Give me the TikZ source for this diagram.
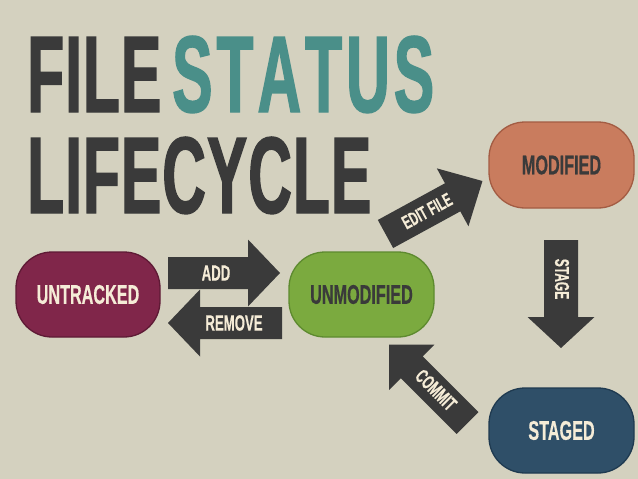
\documentclass[tikz,border=0pt]{standalone}
\usepackage{fontspec}
\setmainfont{Liberation Sans}
\newfontfamily\osw{Liberation Sans}[FakeStretch=0.6,BoldFont={* Bold},BoldFeatures={FakeBold=0.4}]
\newfontfamily\oswt{Liberation Sans}[FakeStretch=0.555,BoldFont={* Bold},BoldFeatures={FakeBold=1.2}]
\usetikzlibrary{positioning}
\definecolor{bgc}{HTML}{D4D1BF}
\definecolor{darkc}{HTML}{3A3A3A}
\definecolor{tealc}{HTML}{4A8F89}
\definecolor{creamc}{HTML}{F5ECD7}
\definecolor{untrc}{HTML}{80264A}
\definecolor{untrb}{HTML}{5E1A35}
\definecolor{unmodc}{HTML}{7BAA3F}
\definecolor{unmodb}{HTML}{5D8A2F}
\definecolor{modc}{HTML}{C97C5E}
\definecolor{modb}{HTML}{A35C43}
\definecolor{stagc}{HTML}{2F4F68}
\definecolor{stagb}{HTML}{1F3A50}
\newcommand{\barrow}[7]{%
  \begin{scope}[shift={(#1,#2)},rotate=#3]
    \fill[darkc] (0,-#6) -- ({#4-#5},-#6) -- ({#4-#5},-#7) -- (#4,0) -- ({#4-#5},#7) -- ({#4-#5},#6) -- (0,#6) -- cycle;
  \end{scope}}
\tikzset{
  statebox/.style={draw, line width=1.3pt, rounded corners=36pt, minimum width=145pt, minimum height=85pt,
    font=\osw\bfseries\fontsize{27}{27}\selectfont, inner sep=0pt},
  arrowlabel/.style={text=creamc, inner sep=0pt, font=\osw\bfseries\fontsize{22}{22}\selectfont},
  titletext/.style={inner sep=0pt, anchor=base west, font=\oswt\bfseries\fontsize{109}{109}\selectfont}
}
\begin{document}
\begin{tikzpicture}[x=1pt,y=-1pt]
\fill[bgc] (0,0) rectangle (638,479);
\useasboundingbox (0,0) rectangle (638,479);
% title
\node[titletext, text=darkc] (file) at (27,112) {F\kern1pt I\kern1pt L\kern1pt E};
\node[titletext, text=tealc] (status) at (172,112) {S\kern4pt T\kern4pt A\kern4pt T\kern4pt U\kern4pt S};
\node[titletext, text=darkc] (lifecycle) at (27,213) {L\kern1pt I\kern1pt F\kern1pt E\kern1pt C\kern1pt Y\kern1pt C\kern1pt L\kern1pt E};
% states
\node[statebox, fill=untrc, draw=untrb, text=creamc, minimum width=144pt] (untracked) at (88,294.5) {UNTRACKED};
\node[statebox, fill=unmodc, draw=unmodb, text=darkc] (unmodified) at (361.5,294.5) {UNMODIFIED};
\node[statebox, fill=modc, draw=modb, text=darkc, minimum height=86pt] (modified) at (561.5,165) {MODIFIED};
\node[statebox, fill=stagc, draw=stagb, text=creamc] (staged) at (561.5,430.5) {STAGED};
% block arrows
\barrow{168}{273}{0}{112}{32}{16}{33.5}
\barrow{282}{323}{180}{114}{32}{16}{33.5}
\barrow{385.5}{234}{28.65}{110.5}{34}{16}{33}
\barrow{561}{240}{-90}{108}{31}{17}{33.5}
\barrow{467.5}{423}{135}{110.7}{32}{15.5}{32}
% labels
\node[arrowlabel] (addlbl) at (216,273) {ADD};
\node[arrowlabel] (removelbl) at (234,323) {REMOVE};
\node[arrowlabel, rotate=28.65, font=\osw\bfseries\fontsize{19}{19}\selectfont] (editlbl) at (427,211) {EDIT FILE};
\node[arrowlabel, rotate=-90, font=\osw\bfseries\fontsize{20}{20}\selectfont] (stagelbl) at (562,279) {STAGE};
\node[arrowlabel, rotate=-45, font=\osw\bfseries\fontsize{20}{20}\selectfont] (commitlbl) at (436,390) {COMMIT};
\end{tikzpicture}
\end{document}
